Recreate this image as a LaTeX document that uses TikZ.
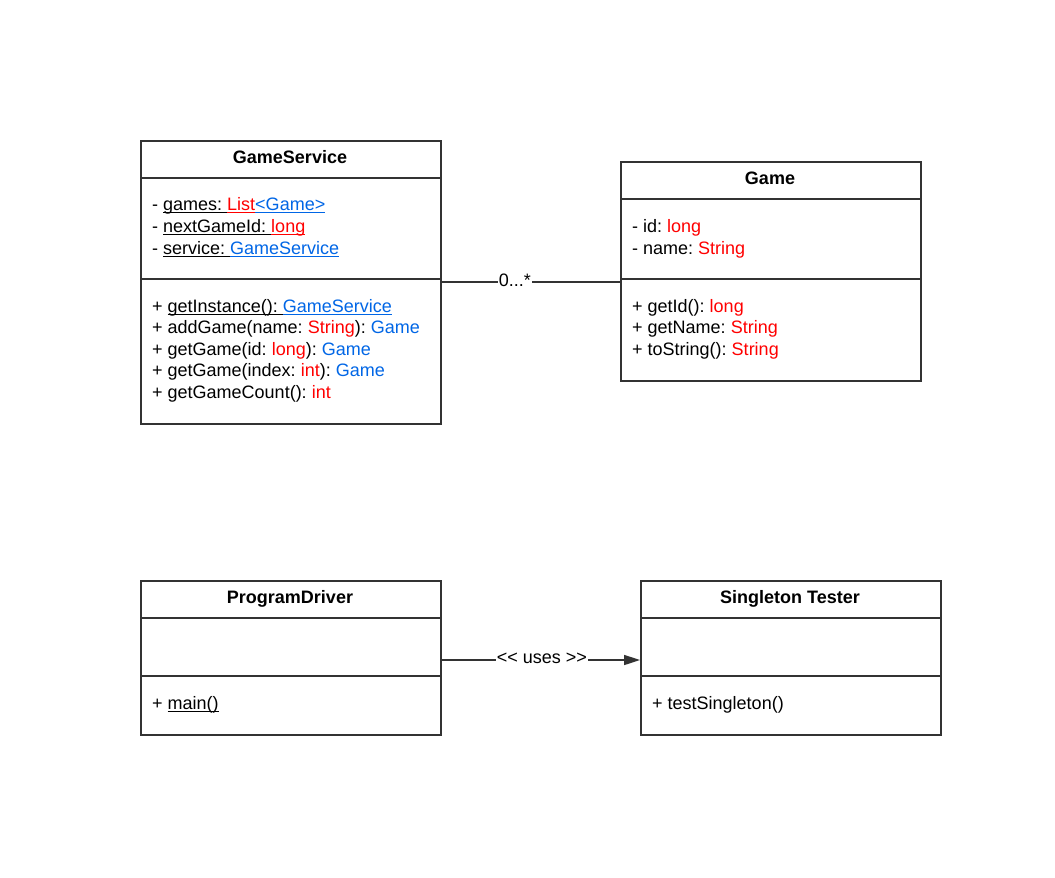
\documentclass[tikz,border=0pt]{standalone}
\usepackage{fontspec}
\setmainfont{Liberation Sans}
\usetikzlibrary{arrows.meta}
\frenchspacing
\definecolor{frame}{HTML}{333333}
\definecolor{tred}{HTML}{FF0000}
\definecolor{tblue}{HTML}{0066E6}
\newcommand{\fs}{\fontsize{18}{21}\selectfont\frenchspacing}
\newcommand{\UL}[1]{\setbox0=\hbox{#1}\rlap{\rule[-2.6pt]{\wd0}{1.1pt}}\box0}
\newcommand{\R}[1]{\textcolor{tred}{#1}}
\newcommand{\B}[1]{\textcolor{tblue}{#1}}
\newcommand{\RU}[1]{\textcolor{tred}{\UL{#1}}}
\newcommand{\BU}[1]{\textcolor{tblue}{\UL{#1}}}
\begin{document}
\begin{tikzpicture}[x=1pt,y=-1pt,
  cls/.style={draw=frame, line width=1.8pt, fill=white, inner sep=0, anchor=north west},
  sep/.style={draw=frame, line width=1.8pt},
  txt/.style={anchor=base west, inner sep=0, font=\fs, text=black},
  ttl/.style={anchor=base, inner sep=0, font=\fs\bfseries, text=black},
  conn/.style={draw=frame, line width=1.6pt},
  lbl/.style={fill=white, inner sep=1pt, font=\fs, text=black}]
\useasboundingbox (0,0) rectangle (1055,878);

% GameService
\node[cls, minimum width=300pt, minimum height=283pt] (gs) at (140,140) {};
\draw[sep] (140,178) -- (440,178);
\draw[sep] (140,279) -- (440,279);
\node[ttl] (gsT) at (290,163) {GameService};
\node[txt] (gsA1) at (152,210) {- \UL{games: }\RU{List}\BU{<Game>}};
\node[txt] (gsA2) at (152,232) {- \UL{nextGameId: }\RU{long}};
\node[txt] (gsA3) at (152,254) {- \UL{service: }\BU{GameService}};
\node[txt] (gsM1) at (152,312) {+ \UL{getInstance(): }\BU{GameService}};
\node[txt] (gsM2) at (152,333) {+ addGame(name: \R{String}): \B{Game}};
\node[txt] (gsM3) at (152,355) {+ getGame(id: \R{long}): \B{Game}};
\node[txt] (gsM4) at (152,376) {+ getGame(index: \R{int}): \B{Game}};
\node[txt] (gsM5) at (152,398) {+ getGameCount(): \R{int}};

% Game
\node[cls, minimum width=300pt, minimum height=219pt] (game) at (620,161) {};
\draw[sep] (620,199) -- (920,199);
\draw[sep] (620,279) -- (920,279);
\node[ttl] (gT) at (770,184) {Game};
\node[txt] (gA1) at (632,232) {- id: \R{long}};
\node[txt] (gA2) at (632,254) {- name: \R{String}};
\node[txt] (gM1) at (632,312) {+ getId(): \R{long}};
\node[txt] (gM2) at (632,333) {+ getName: \R{String}};
\node[txt] (gM3) at (632,355) {+ toString(): \R{String}};

% ProgramDriver
\node[cls, minimum width=300pt, minimum height=154pt] (pd) at (140,580) {};
\draw[sep] (140,618) -- (440,618);
\draw[sep] (140,676) -- (440,676);
\node[ttl] (pdT) at (290,603) {ProgramDriver};
\node[txt] (pdM1) at (152,709) {+ \UL{main()}};

% Singleton Tester
\node[cls, minimum width=300pt, minimum height=154pt] (st) at (640,580) {};
\draw[sep] (640,618) -- (940,618);
\draw[sep] (640,676) -- (940,676);
\node[ttl] (stT) at (790,603) {Singleton Tester};
\node[txt] (stM1) at (652,709) {+ testSingleton()};

% connectors
\coordinate (gsR) at (gs.east |- 0,282);
\coordinate (gL) at (game.west |- 0,282);
\draw[conn] (gsR) -- (gL) node[lbl, pos=0.41, yshift=2pt] (mult) {0...*};
\coordinate (pdR) at (pd.east |- 0,660);
\coordinate (stL) at (st.west |- 0,660);
\draw[conn, -{Triangle[length=16pt,width=10pt]}] (pdR) -- (stL) node[lbl, pos=0.505, yshift=1.5pt] (uses) {<\kern0pt< uses >\kern0pt>};
\end{tikzpicture}
\end{document}
